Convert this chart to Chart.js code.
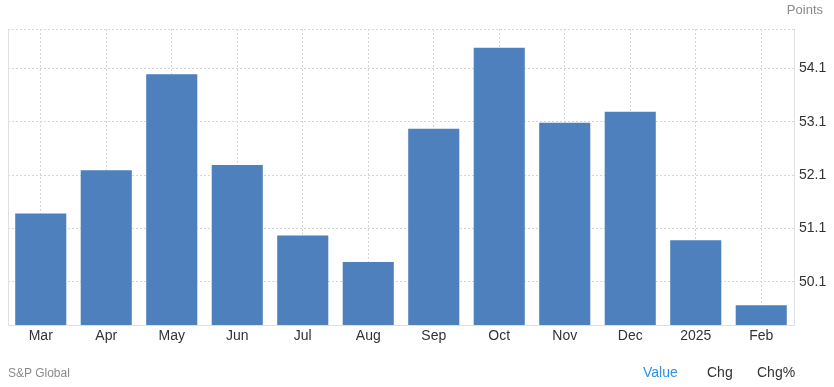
<!DOCTYPE html>
<html>
<head>
<meta charset="utf-8">
<script src="https://cdn.jsdelivr.net/npm/chart.js@4/dist/chart.umd.min.js"></script>
<style>
  html, body { margin: 0; padding: 0; background: #fff; }
  body { width: 834px; height: 387px; position: relative; overflow: hidden; font-family: "Liberation Sans", Arial, sans-serif; }
  #wrap { position: absolute; left: 0; top: 0; width: 834px; height: 387px; }
  .unit { position: absolute; right: 11px; top: 2px; font-size: 13px; color: #8a8a8a; }
  .source { position: absolute; left: 8px; top: 366px; font-size: 12px; color: #8a8a8a; }
  .tabs { position: absolute; top: 364px; font-size: 14px; color: #333; }
  .tabs span { position: absolute; white-space: nowrap; }
</style>
</head>
<body>
<div id="wrap"><canvas id="chart" width="834" height="387"></canvas></div>
<div class="unit">Points</div>
<div class="source">S&amp;P Global</div>
<div class="tabs">
  <span style="left:643px;color:#2f8fe8">Value</span>
  <span style="left:707px">Chg</span>
  <span style="left:757px">Chg%</span>
</div>
<script>
// meses y valores
const labels = ['Mar', 'Apr', 'May', 'Jun', 'Jul', 'Aug', 'Sep', 'Oct', 'Nov', 'Dec', '2025', 'Feb'];
const values = [51.38, 52.19, 53.99, 52.29, 50.97, 50.47, 52.97, 54.49, 53.08, 53.29, 50.88, 49.66];
const yTicks = [50.1, 51.1, 52.1, 53.1, 54.1];
const yMin = 49.29;
const yMax = 54.84;

// lineas solidas de los bordes izquierdo, derecho e inferior
const frameLines = {
  id: 'frameLines',
  afterDraw(chart) {
    const { ctx, chartArea } = chart;
    const l = Math.round(chartArea.left) + 0.5;
    const r = Math.round(chartArea.right) + 0.5;
    const b = Math.round(chartArea.bottom) + 0.5;
    ctx.save();
    ctx.setLineDash([]);
    ctx.strokeStyle = '#e0e0e0';
    ctx.lineWidth = 1;
    ctx.beginPath();
    ctx.moveTo(l, chartArea.top);
    ctx.lineTo(l, b);
    ctx.lineTo(r, b);
    ctx.moveTo(r, chartArea.top);
    ctx.lineTo(r, b);
    ctx.stroke();
    ctx.restore();
  }
};

new Chart(document.getElementById('chart'), {
  type: 'bar',
  data: {
    labels: labels,
    datasets: [{
      data: values,
      backgroundColor: '#4d80bc',
      borderWidth: 0,
      barPercentage: 0.78,
      categoryPercentage: 1
    }]
  },
  options: {
    responsive: false,
    animation: false,
    layout: { padding: { left: 8, right: 0, top: 29, bottom: 32 } },
    plugins: { legend: { display: false }, tooltip: { enabled: false } },
    scales: {
      x: {
        offset: true,
        grid: { offset: false, color: '#d6d6d6', drawTicks: false },
        border: { display: false, dash: [2, 2] },
        ticks: { color: '#333', font: { family: 'Liberation Sans', size: 14 }, padding: 3, maxRotation: 0 },
        afterFit: (scale) => { scale.height = 30; }
      },
      y: {
        position: 'right',
        min: yMin,
        max: yMax,
        afterBuildTicks: (scale) => {
          scale.ticks = yTicks.map(v => ({ value: v })).concat([{ value: yMax }]);
        },
        grid: { color: '#d6d6d6', drawTicks: false },
        border: { display: false, dash: [2, 2] },
        ticks: {
          color: '#333',
          font: { family: 'Liberation Sans', size: 14 },
          padding: 5,
          callback: (v) => (v === yMax ? '' : v.toFixed(1))
        },
        afterFit: (scale) => { scale.width = 40; }
      }
    }
  },
  plugins: [frameLines]
});
</script>
</body>
</html>
